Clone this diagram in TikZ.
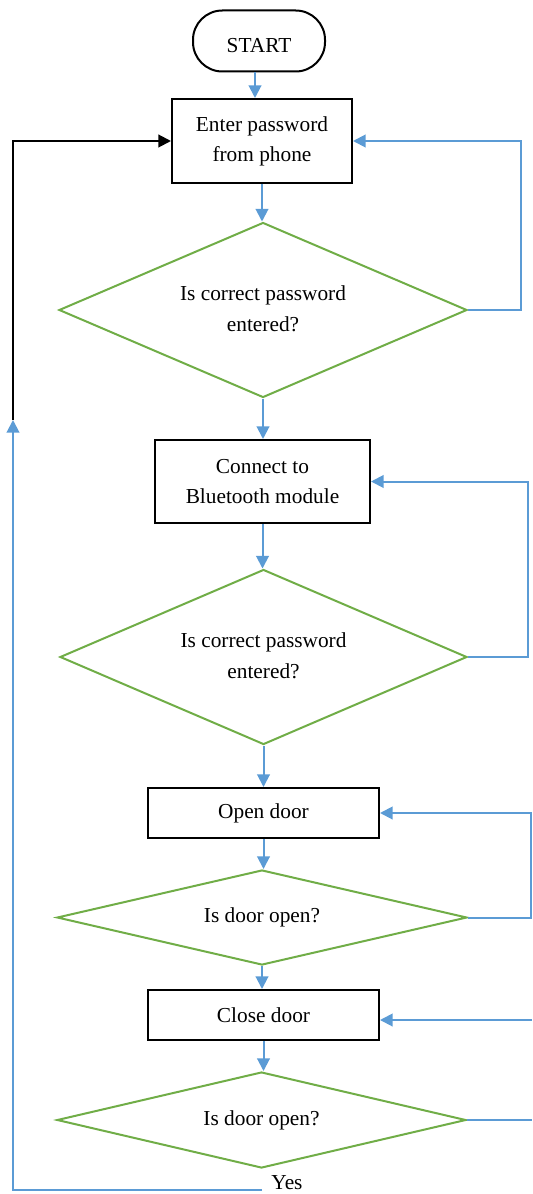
\documentclass[tikz,border=0pt]{standalone}
\usepackage{fontspec}
\setmainfont{Liberation Serif}
\usetikzlibrary{shapes.geometric,arrows.meta}
\definecolor{flowblue}{HTML}{5B9BD5}
\definecolor{flowgreen}{HTML}{70AD47}

\begin{document}
\begin{tikzpicture}[x=0.75pt,y=-0.75pt,
  every node/.style={font=\fontsize{16}{22.5}\selectfont, align=center, inner sep=0pt},
  terminal/.style={draw=black, line width=1.5pt, rounded corners=22pt,
                   minimum width=99pt, minimum height=45.75pt},
  process/.style={draw=black, line width=1.5pt},
  decision/.style={diamond, draw=flowgreen, line width=1.5pt, aspect=2.3},
  flow/.style={draw=flowblue, line width=1.5pt, -{Triangle[length=9.5pt,width=9.5pt]}},
  flowline/.style={draw=flowblue, line width=1.5pt},
  back/.style={draw=black, line width=1.5pt, -{Triangle[length=9.5pt,width=9.5pt]}}]

\useasboundingbox (0,0) rectangle (532,1194);

% shapes of the chart
\node[terminal] (start) at (259,41) {\raisebox{-3pt}[0.7em][0pt]{START}};
\node[process, minimum width=135pt, minimum height=63pt] (enter) at (262,141)
  {Enter password\\from phone};
\node[decision, minimum width=306pt, minimum height=131.25pt] (check1) at (263,310)
  {\raisebox{3pt}{\begin{tabular}{@{}c@{}}Is correct password\\[1pt]entered?\end{tabular}}};
\node[process, minimum width=161.25pt, minimum height=62.25pt] (bt) at (262.5,481.5)
  {Connect to\\Bluetooth module};
\node[decision, minimum width=305.25pt, minimum height=131.25pt] (check2) at (263.5,657)
  {\raisebox{3pt}{\begin{tabular}{@{}c@{}}Is correct password\\[1pt]entered?\end{tabular}}};
\node[process, minimum width=173.25pt, minimum height=37.5pt] (open) at (263.5,813)
  {Open door};
\node[decision, minimum width=307.5pt, minimum height=71.25pt] (isopen1) at (262,917.5)
  {Is door open?};
\node[process, minimum width=173.25pt, minimum height=37.5pt] (close) at (263.5,1015)
  {Close door};
\node[decision, minimum width=306.75pt, minimum height=72pt] (isopen2) at (261.5,1120)
  {Is door open?};
\node (yes) at (287,1183) {Yes};

% helper points for the side loops
\coordinate (rail1) at (521,0);
\coordinate (rail2) at (528,0);
\coordinate (rail3) at (531,0);
\coordinate (inclose) at (532,1020);
\coordinate (outopen) at (532,1120);
\coordinate (yesstart) at (262,1190);
\coordinate (leftup) at (13,420);

% main downward flow
\draw[flow] (start.south -| 255,0) -- (255,0 |- enter.north);
\draw[flow] (enter) -- (enter |- check1.north);
\draw[flow] (check1) -- (check1 |- bt.north);
\draw[flow] (bt) -- (bt |- check2.north);
\draw[flow] (check2) -- (check2 |- open.north);
\draw[flow] (open) -- (open |- isopen1.north);
\draw[flow] (isopen1) -- (isopen1 |- close.north);
\draw[flow] (close) -- (close |- isopen2.north);

% retry loops on the right
\draw[flow] (check1.east) -| (rail1 |- enter.east) -- (enter.east);
\draw[flow] (check2.east) -| (rail2 |- bt.east) -- (bt.east);
\draw[flow] (isopen1.east) -| (rail3 |- open.east) -- (open.east);
\draw[flow] (inclose) -- (inclose -| close.east);
\draw[flowline] (isopen2.east) -- (outopen);

% return path on the left
\draw[flow] (yesstart) -| (leftup);
\draw[back] (leftup) |- (enter.west);

\end{tikzpicture}
\end{document}
